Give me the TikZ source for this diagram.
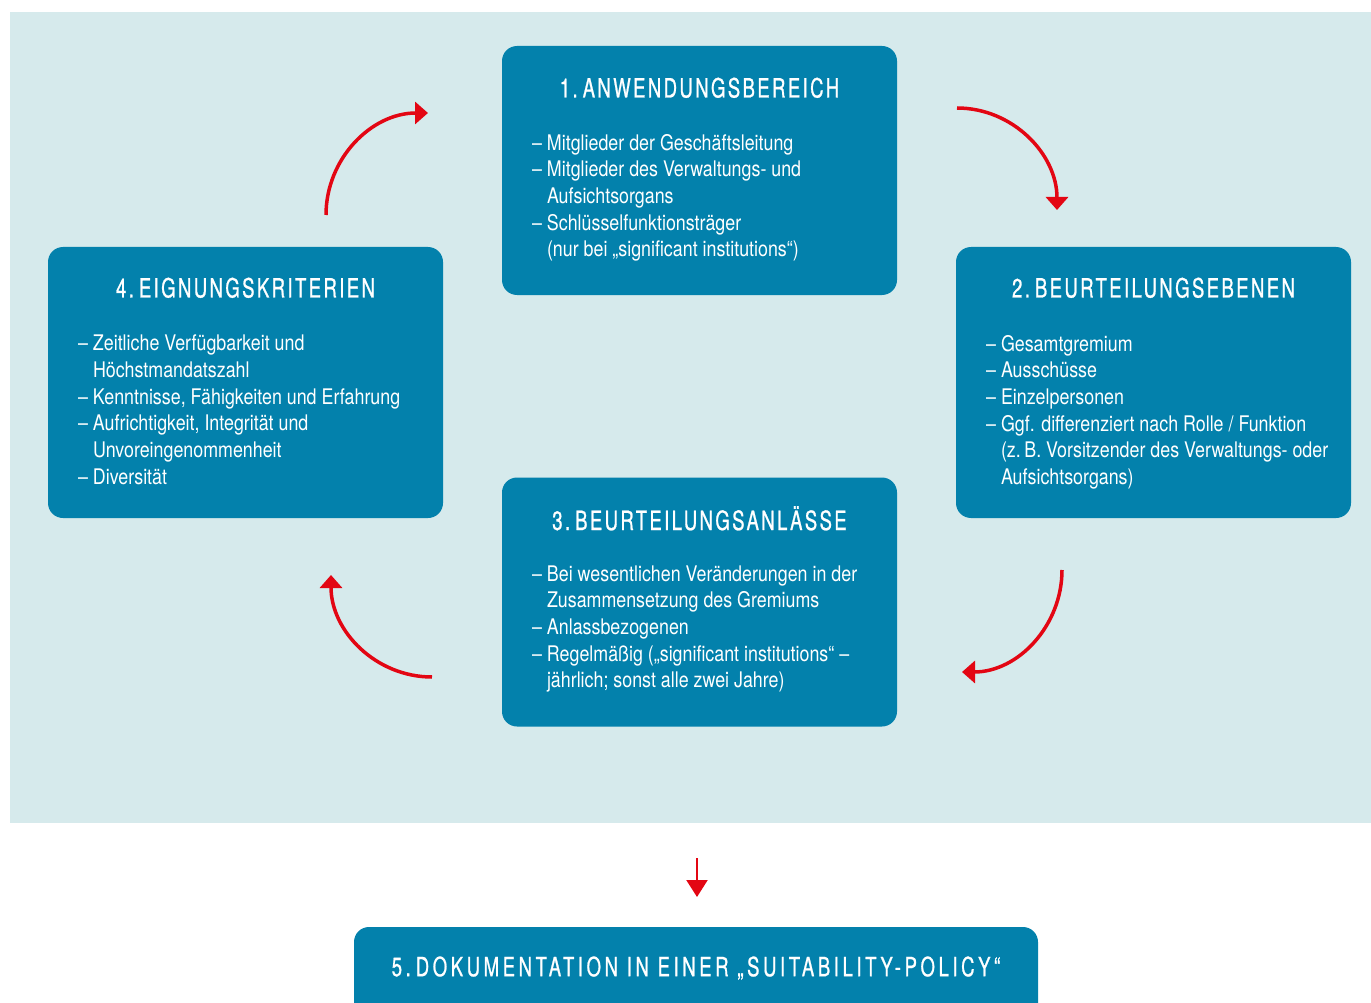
\documentclass[tikz,border=0pt]{standalone}
\usepackage{fontspec}
\setmainfont[FakeStretch=0.83]{TeX Gyre Heros}
\newfontfamily\headfont[FakeStretch=0.7,LetterSpace=9,FakeBold=0.8]{TeX Gyre Heros}
\usetikzlibrary{positioning}
\usetikzlibrary{arrows.meta}
\usetikzlibrary{calc}
\definecolor{boxblue}{HTML}{0381AC}
\definecolor{bgblue}{HTML}{D6EAEC}
\definecolor{arrowred}{HTML}{E30613}
\tikzstyle{box}=[rounded corners=15pt,fill=boxblue,draw=none,minimum width=395pt,inner sep=0pt]
\tikzstyle{heading}=[text=white,font=\headfont\fontsize{26.5}{30}\selectfont]
\tikzstyle{body}=[text=white,font=\fontsize{21.5}{26.7}\selectfont,align=left,anchor=north west,inner sep=0pt]
\tikzstyle{cycle}=[arrowred,line width=3.5pt,-{Triangle[length=13pt,width=22pt]}]
\newcommand{\dash}{\makebox[15pt][l]{–}}
\newcommand{\cont}{\hspace*{15pt}}
\newcommand{\gap}{\hspace{5pt}}

\begin{document}
\begin{tikzpicture}[x=1pt,y=-1pt]

\useasboundingbox (0,0) rectangle (1371,1003);
\clip (0,0) rectangle (1371,1003);
\fill[bgblue] (10,12) rectangle (1371,823);

    \foreach \pos/\name/\h in {{(699.5,170.5)/anw/249}, {(1153.5,382.5)/beu/271}, {(699.5,602)/anl/249}, {(245.5,382.5)/eig/271}}
        \node[box,minimum height=\h pt] (\name) at \pos {};

\node[box,minimum width=684pt,minimum height=110pt] (doc) at (696,982) {};

%headings
\node[heading] (anwh) at ($(anw.north)+(0,42)$) {1.\gap ANWENDUNGSBEREICH};
\node[heading] (beuh) at ($(beu.north)+(0,41)$) {2.\gap BEURTEILUNGSEBENEN};
\node[heading] (anlh) at ($(anl.north)+(0,41)$) {3.\gap BEURTEILUNGSANLÄSSE};
\node[heading] (eigh) at ($(eig.north)+(0,41)$) {4.\gap EIGNUNGSKRITERIEN};
\node[heading] (doch) at (696,968) {\addfontfeature{LetterSpace=13.5}5.\gap DOKUMENTATION IN EINER „SUITABILITY-POLICY“};

%lists
\node[body] (anwt) at ($(anw.north west)+(30,88)$) {\dash Mitglieder der Geschäftsleitung\\
  \dash Mitglieder des Verwaltungs- und\\
  \cont Aufsichtsorgans\\
  \dash Schlüsselfunktionsträger\\
  \cont (nur bei „significant institutions“)};
\node[body] (beut) at ($(beu.north west)+(30,88)$) {\dash Gesamtgremium\\
  \dash Ausschüsse\\
  \dash Einzelpersonen\\
  \dash Ggf. differenziert nach Rolle / Funktion\\
  \cont (z.\,B. Vorsitzender des Verwaltungs- oder\\
  \cont Aufsichtsorgans)};
\node[body] (anlt) at ($(anl.north west)+(30,88)$) {\dash Bei wesentlichen Veränderungen in der\\
  \cont Zusammensetzung des Gremiums\\
  \dash Anlassbezogenen\\
  \dash Regelmäßig („significant institutions“ –\\
  \cont jährlich; sonst alle zwei Jahre)};
\node[body] (eigt) at ($(eig.north west)+(30,88)$) {\dash Zeitliche Verfügbarkeit und\\
  \cont Höchstmandatszahl\\
  \dash Kenntnisse, Fähigkeiten und Erfahrung\\
  \dash Aufrichtigkeit, Integrität und\\
  \cont Unvoreingenommenheit\\
  \dash Diversität};

%cycle arrows
\coordinate (a1s) at (326,215);  \coordinate (a1e) at (428,113);
\coordinate (a2s) at (957,108);  \coordinate (a2e) at (1057,210);
\coordinate (a3s) at (1062,570); \coordinate (a3e) at (962,672);
\coordinate (a4s) at (432,677);  \coordinate (a4e) at (331,575);
\draw[cycle] (a1s) to[out=90,in=180] (a1e);
\draw[cycle] (a2s) to[out=0,in=90] (a2e);
\draw[cycle] (a3s) to[out=270,in=0] (a3e);
\draw[cycle] (a4s) to[out=180,in=270] (a4e);

\coordinate (dtop) at (697,858);
\coordinate (dend) at (697,897);
\draw[arrowred,line width=2.2pt,-{Triangle[length=17pt,width=21pt]}] (dtop) -- (dend);

\end{tikzpicture}
\end{document}
